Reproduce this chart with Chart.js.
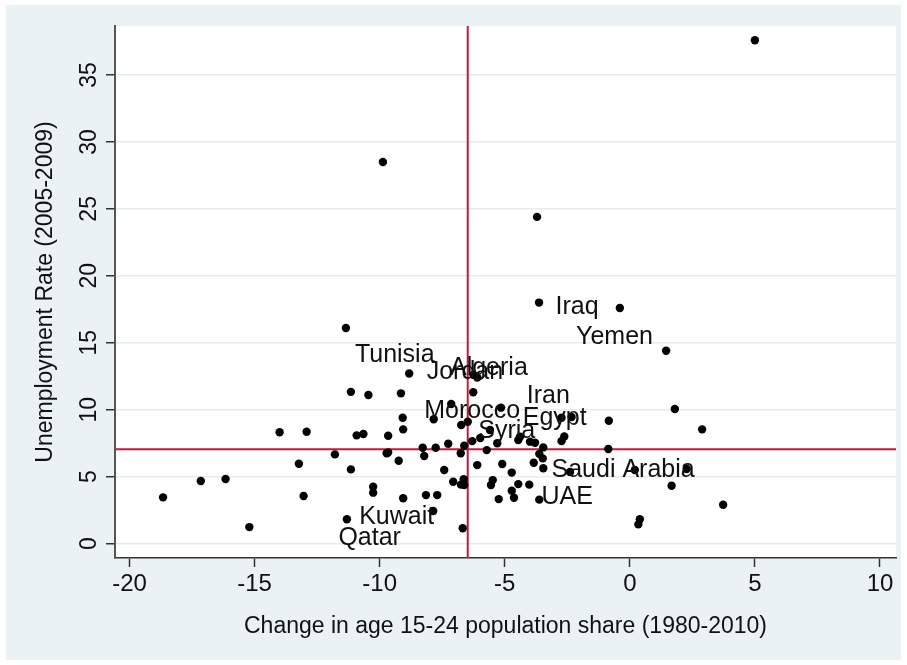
<!DOCTYPE html>
<html>
<head>
<meta charset="utf-8">
<script src="https://cdn.jsdelivr.net/npm/chart.js@4.4.1/dist/chart.umd.min.js"></script>
<style>
  html, body { margin: 0; padding: 0; background: #fff; }
  #chart { display: block; }
</style>
</head>
<body>
<canvas id="chart" width="907" height="665"></canvas>
<script>
// Change in age 15-24 population share vs unemployment rate
var xVals = [5.0, -9.87, -3.71, -3.63, -0.40, -11.35, 1.45, -8.82, -6.25, -6.1,
    -11.15, -10.45, -9.15, -6.26, -7.14, -5.15, 1.80, -9.08, -7.84, -2.73,
    -2.33, -0.84, -9.06, -6.74, -6.48, -5.59, 2.89, -14.0, -12.92, -10.92,
    -10.65, -9.66, -5.98, -6.30, -4.46, -4.39, -3.99, -3.79, -2.73, -2.62,
    -5.30, -8.28, -7.76, -7.26, -6.62, -3.46, -0.86, -11.79, -9.72, -9.66,
    -8.22, -6.76, -5.72, -3.62, -3.48, -3.84, -13.23, -9.24, -6.10, -5.10,
    -11.15, -7.42, -4.72, -3.46, -2.39, 0.20, 2.27, -17.15, -16.16, -7.06,
    -6.64, -6.62, -6.75, -5.48, -5.55, -4.46, -4.02, 1.67, -10.26, -10.26,
    -18.66, -13.04, -9.06, -8.15, -7.70, -4.72, -4.63, -5.24, -3.62, 3.73,
    -7.86, -15.21, -11.31, -6.68, 0.40, 0.34];
var yVals = [37.6, 28.5, 24.4, 18.0, 17.6, 16.1, 14.4, 12.7, 12.6, 12.4,
    11.33, 11.1, 11.22, 11.3, 10.42, 10.15, 10.05, 9.40, 9.28, 9.40,
    9.45, 9.17, 8.53, 8.85, 9.10, 8.48, 8.53, 8.31, 8.35, 8.08,
    8.18, 8.05, 7.88, 7.65, 7.73, 7.98, 7.61, 7.53, 7.65, 8.0,
    7.49, 7.15, 7.15, 7.45, 7.30, 7.18, 7.06, 6.66, 6.74, 6.81,
    6.54, 6.74, 6.98, 6.70, 6.36, 6.04, 5.96, 6.19, 5.86, 5.94,
    5.54, 5.49, 5.30, 5.62, 5.35, 5.49, 5.57, 4.67, 4.82, 4.62,
    4.80, 4.37, 4.40, 4.74, 4.37, 4.44, 4.40, 4.32, 4.24, 3.80,
    3.45, 3.55, 3.38, 3.62, 3.62, 3.95, 3.42, 3.32, 3.28, 2.90,
    2.43, 1.23, 1.81, 1.14, 1.81, 1.43];

// country labels (anchor = left end / middle of text, in data units)
var labelNames = ['Iraq', 'Yemen', 'Tunisia', 'Algeria', 'Jordan', 'Iran', 'Morocco',
    'Egypt', 'Syria', 'Saudi Arabia', 'UAE', 'Kuwait', 'Qatar'];
var labelX = [-2.97, -2.15, -10.99, -7.19, -8.12, -4.12, -8.22, -4.28, -6.06, -3.13, -3.53, -10.82, -11.65];
var labelY = [17.67, 15.45, 14.10, 13.11, 12.83, 11.0, 9.90, 9.38, 8.40, 5.47, 3.47, 1.96, 0.43];

// reference lines (means)
var xRef = -6.48;
var yRef = 7.04;

var xTicks = [-20, -15, -10, -5, 0, 5, 10];
var yTicks = [0, 5, 10, 15, 20, 25, 30, 35];
var xMin = -20.58, xMax = 10.64;
var yMin = -1.08, yMax = 38.66;

var FONT = '"Liberation Sans", Arial, sans-serif';

var points = xVals.map(function (x, i) { return { x: x, y: yVals[i] }; });

// backgrounds: light bluish graph region, white plot region
var bgPlugin = {
    id: 'bg',
    beforeDraw: function (chart) {
        var ctx = chart.ctx, a = chart.chartArea;
        ctx.save();
        ctx.fillStyle = '#ffffff';
        ctx.fillRect(0, 0, chart.width, chart.height);
        ctx.fillStyle = '#EAF2F3';
        ctx.fillRect(6, 5, 895, 655);
        ctx.fillStyle = '#ffffff';
        ctx.fillRect(a.left, a.top, a.right - a.left, a.bottom - a.top);
        ctx.restore();
    }
};

// rotated y tick labels and marker labels
var textPlugin = {
    id: 'texts',
    afterDatasetsDraw: function (chart) {
        var ctx = chart.ctx, xs = chart.scales.x, ys = chart.scales.y;
        ctx.save();
        ctx.fillStyle = '#111';
        ctx.font = '23px ' + FONT;
        ctx.textAlign = 'center';
        ctx.textBaseline = 'middle';
        yTicks.forEach(function (v) {
            ctx.save();
            ctx.translate(90, ys.getPixelForValue(v));
            ctx.rotate(-Math.PI / 2);
            ctx.fillText(String(v), 0, 0);
            ctx.restore();
        });
        ctx.font = '25px ' + FONT;
        ctx.textAlign = 'left';
        labelNames.forEach(function (name, i) {
            ctx.fillText(name, xs.getPixelForValue(labelX[i]), ys.getPixelForValue(labelY[i]));
        });
        ctx.restore();
    }
};

var ctx = document.getElementById('chart').getContext('2d');
var chart = new Chart(ctx, {
    type: 'scatter',
    data: {
        datasets: [{
            data: points,
            backgroundColor: '#000',
            borderWidth: 0,
            pointRadius: 4.2,
            pointHoverRadius: 4.2
        }, {
            type: 'line',
            data: [{ x: xRef, y: yMin }, { x: xRef, y: yMax }],
            borderColor: '#C8173F',
            borderWidth: 2,
            pointRadius: 0
        }, {
            type: 'line',
            data: [{ x: xMin, y: yRef }, { x: xMax, y: yRef }],
            borderColor: '#C8173F',
            borderWidth: 2,
            pointRadius: 0
        }]
    },
    options: {
        responsive: false,
        animation: false,
        events: [],
        layout: { padding: { top: 26, right: 11, left: 0, bottom: 0 } },
        plugins: { legend: { display: false }, tooltip: { enabled: false } },
        scales: {
            x: {
                type: 'linear',
                min: xMin,
                max: xMax,
                afterBuildTicks: function (axis) {
                    axis.ticks = xTicks.map(function (v) { return { value: v }; });
                },
                afterFit: function (axis) { axis.height = 107; },
                grid: { drawOnChartArea: false, tickLength: 9, tickColor: '#333', tickWidth: 1.5 },
                border: { color: '#333', width: 1.5 },
                ticks: { color: '#111', padding: 3, font: { family: FONT, size: 24 } },
                title: {
                    display: true,
                    text: 'Change in age 15-24 population share (1980-2010)',
                    color: '#111',
                    font: { family: FONT, size: 23 },
                    padding: { top: 0, bottom: 25 }
                }
            },
            y: {
                type: 'linear',
                min: yMin,
                max: yMax,
                afterBuildTicks: function (axis) {
                    axis.ticks = yTicks.map(function (v) { return { value: v }; });
                },
                afterFit: function (axis) { axis.width = 115; },
                grid: { color: '#E4ECEE', lineWidth: 1.5, tickLength: 9, tickColor: '#333', tickWidth: 1.5 },
                border: { color: '#555', width: 2 },
                ticks: { display: false },
                title: {
                    display: true,
                    text: 'Unemployment Rate (2005-2009)',
                    color: '#111',
                    font: { family: FONT, size: 23 },
                    padding: { top: 32, bottom: 0 }
                }
            }
        }
    },
    plugins: [bgPlugin, textPlugin]
});
</script>
</body>
</html>
